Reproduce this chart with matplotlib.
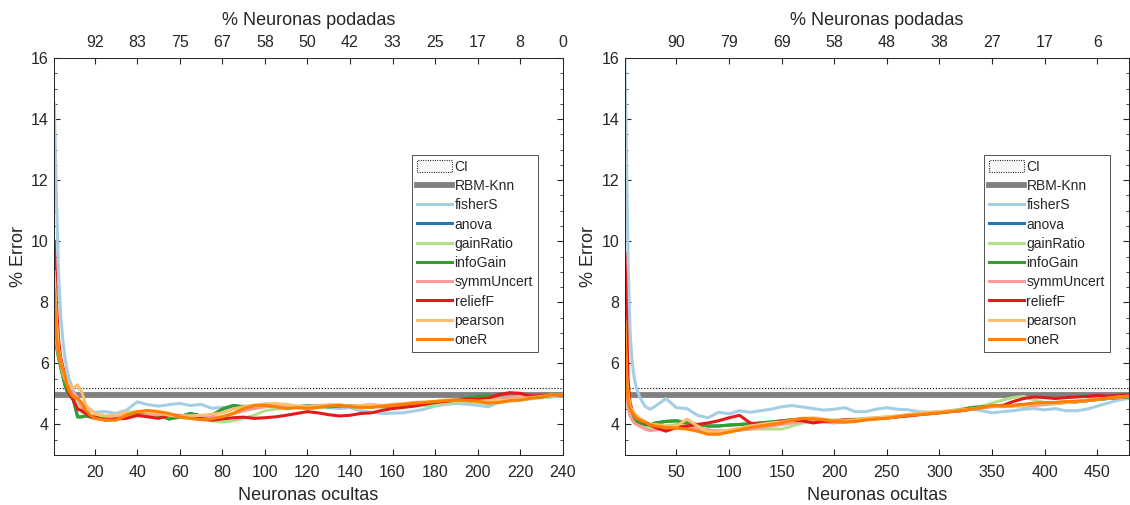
import matplotlib
matplotlib.use("Agg")
import matplotlib.pyplot as plt
from matplotlib.ticker import MultipleLocator

plt.rcParams["font.family"] = ["Liberation Sans", "DejaVu Sans"]
TXT = "#262626"

# ---- left panel: 240 hidden neurons ----
x_left = [1, 2, 3, 4, 5, 6, 7, 8, 9, 10, 12, 14, 16, 18, 20,
          25, 30, 35, 40, 45, 50, 55, 60, 65, 70, 75, 80, 85, 90, 95, 100,
          105, 110, 115, 120, 125, 130, 135, 140, 145, 150, 155, 160, 165, 170,
          175, 180, 185, 190, 195, 200, 205, 210, 215, 220, 225, 230, 235, 240]
fisher_l = [14.5, 11.5, 9.0, 7.6, 6.8, 6.2, 5.8, 5.5, 5.3, 5.1, 4.8, 4.55, 4.45, 4.45, 4.4,
            4.42, 4.36, 4.47, 4.74, 4.65, 4.6, 4.65, 4.69, 4.62, 4.66, 4.53, 4.56, 4.57, 4.6,
            4.62, 4.68, 4.65, 4.66, 4.6, 4.62, 4.55, 4.55, 4.52, 4.55, 4.45, 4.4, 4.36, 4.37,
            4.38, 4.44, 4.5, 4.6, 4.66, 4.69, 4.66, 4.63, 4.58, 4.72, 4.78, 4.8, 4.86, 4.88,
            4.9, 4.95]
gain_l = [7.6, 6.6, 6.2, 5.9, 5.6, 5.4, 5.2, 5.0, 4.9, 4.85, 4.6, 4.4, 4.3, 4.3, 4.25,
          4.22, 4.25, 4.28, 4.3, 4.28, 4.26, 4.2, 4.22, 4.2, 4.15, 4.12, 4.08, 4.12, 4.2,
          4.3, 4.45, 4.5, 4.55, 4.55, 4.52, 4.55, 4.58, 4.6, 4.6, 4.62, 4.6, 4.56, 4.55,
          4.56, 4.6, 4.62, 4.64, 4.7, 4.75, 4.76, 4.72, 4.68, 4.72, 4.76, 4.8, 4.84, 4.88,
          4.92, 4.94]
info_l = [7.8, 6.6, 6.2, 5.9, 5.6, 5.3, 5.1, 5.0, 4.9, 4.8, 4.25, 4.25, 4.28, 4.25, 4.2,
          4.2, 4.28, 4.32, 4.36, 4.33, 4.3, 4.18, 4.25, 4.36, 4.28, 4.3, 4.5, 4.62, 4.58,
          4.55, 4.6, 4.62, 4.6, 4.58, 4.6, 4.6, 4.58, 4.6, 4.62, 4.6, 4.58, 4.6, 4.58,
          4.6, 4.64, 4.7, 4.74, 4.78, 4.8, 4.86, 4.9, 4.95, 4.85, 4.82, 4.84, 4.88, 4.9,
          4.95, 4.96]
anova_l = list(info_l)  # hidden under infoGain in the picture
symm_l = [7.7, 6.7, 6.3, 6.0, 5.7, 5.5, 5.3, 5.2, 5.1, 5.0, 4.9, 4.55, 4.4, 4.3, 4.2,
          4.15, 4.25, 4.3, 4.28, 4.3, 4.32, 4.33, 4.3, 4.28, 4.25, 4.24, 4.25, 4.35, 4.45,
          4.52, 4.58, 4.62, 4.6, 4.56, 4.58, 4.62, 4.64, 4.62, 4.6, 4.62, 4.65, 4.62, 4.6,
          4.62, 4.66, 4.7, 4.74, 4.78, 4.82, 4.8, 4.78, 4.8, 4.85, 4.9, 4.92, 4.9, 4.92,
          4.95, 4.96]
relief_l = [10.0, 8.0, 6.8, 6.2, 5.9, 5.6, 5.3, 5.0, 4.9, 4.8, 4.5, 4.45, 4.35, 4.25, 4.25,
            4.14, 4.18, 4.2, 4.3, 4.25, 4.2, 4.3, 4.27, 4.22, 4.2, 4.14, 4.18, 4.22, 4.24,
            4.2, 4.22, 4.25, 4.3, 4.36, 4.42, 4.38, 4.32, 4.28, 4.3, 4.36, 4.38, 4.46, 4.52,
            4.56, 4.6, 4.66, 4.72, 4.76, 4.8, 4.82, 4.83, 4.86, 4.98, 5.04, 5.02, 4.93, 4.95,
            4.98, 4.96]
pearson_l = [9.0, 7.4, 6.5, 6.1, 5.8, 5.5, 5.4, 5.3, 5.25, 5.2, 5.3, 5.05, 4.6, 4.5, 4.35,
             4.28, 4.3, 4.4, 4.42, 4.4, 4.38, 4.3, 4.26, 4.28, 4.3, 4.33, 4.38, 4.5, 4.58,
             4.63, 4.66, 4.69, 4.65, 4.6, 4.58, 4.6, 4.63, 4.65, 4.6, 4.62, 4.64, 4.62, 4.66,
             4.68, 4.72, 4.74, 4.76, 4.8, 4.8, 4.78, 4.76, 4.78, 4.8, 4.82, 4.84, 4.88, 4.92,
             4.98, 4.97]
oner_l = [8.4, 6.9, 6.4, 6.0, 5.8, 5.6, 5.3, 5.1, 5.0, 4.9, 4.85, 4.7, 4.45, 4.3, 4.2,
          4.14, 4.14, 4.3, 4.42, 4.46, 4.42, 4.36, 4.25, 4.2, 4.16, 4.18, 4.25, 4.36, 4.52,
          4.62, 4.63, 4.58, 4.52, 4.55, 4.53, 4.56, 4.6, 4.63, 4.58, 4.56, 4.56, 4.6, 4.63,
          4.66, 4.7, 4.72, 4.75, 4.78, 4.8, 4.78, 4.76, 4.7, 4.72, 4.78, 4.8, 4.86, 4.9,
          4.98, 4.97]

# ---- right panel: 480 hidden neurons ----
x_right = [1, 2, 3, 4, 5, 6, 8, 10, 12, 15, 20, 25,
           30, 40, 50, 60, 70, 80, 90, 100, 110, 120, 130, 140, 150, 160, 170, 180, 190,
           200, 210, 220, 230, 240, 250, 260, 270, 280, 290, 300, 310, 320, 330, 340, 350,
           360, 370, 380, 390, 400, 410, 420, 430, 440, 450, 460, 470, 480]
fisher_r = [16.0, 14.0, 11.5, 9.5, 8.0, 7.0, 6.0, 5.5, 5.2, 4.9, 4.6, 4.5,
            4.6, 4.85, 4.55, 4.52, 4.3, 4.22, 4.4, 4.35, 4.45, 4.4, 4.45, 4.5, 4.58, 4.62,
            4.57, 4.52, 4.47, 4.5, 4.55, 4.42, 4.42, 4.5, 4.55, 4.5, 4.48, 4.42, 4.4, 4.4,
            4.45, 4.45, 4.5, 4.45, 4.38, 4.42, 4.45, 4.5, 4.52, 4.48, 4.52, 4.45, 4.45, 4.5,
            4.6, 4.7, 4.8, 4.85]
gain_r = [7.0, 5.8, 5.0, 4.6, 4.4, 4.3, 4.15, 4.05, 4.0, 3.95, 3.9, 3.88,
          3.88, 3.95, 4.0, 3.95, 3.9, 3.82, 3.8, 3.78, 3.82, 3.85, 3.85, 3.85, 3.85, 3.95,
          4.05, 4.1, 4.12, 4.15, 4.15, 4.18, 4.2, 4.22, 4.25, 4.28, 4.32, 4.35, 4.38, 4.42,
          4.45, 4.5, 4.55, 4.6, 4.7, 4.8, 4.88, 4.92, 4.8, 4.72, 4.72, 4.75, 4.76, 4.8,
          4.84, 4.86, 4.88, 4.9]
info_r = [7.6, 6.0, 5.2, 4.8, 4.6, 4.45, 4.3, 4.2, 4.1, 4.05, 4.0, 3.98,
          4.05, 4.1, 4.12, 4.05, 4.0, 3.95, 3.95, 3.98, 4.0, 4.02, 4.05, 4.08, 4.12, 4.15,
          4.18, 4.15, 4.12, 4.1, 4.12, 4.15, 4.18, 4.2, 4.22, 4.26, 4.3, 4.33, 4.38, 4.4,
          4.43, 4.48, 4.55, 4.58, 4.6, 4.6, 4.62, 4.65, 4.66, 4.68, 4.7, 4.72, 4.74, 4.78,
          4.82, 4.85, 4.88, 4.9]
anova_r = list(info_r)  # hidden under infoGain in the picture
symm_r = [6.6, 5.6, 5.0, 4.6, 4.4, 4.3, 4.15, 4.05, 4.0, 3.95, 3.85, 3.8,
          3.82, 3.85, 3.9, 3.9, 3.85, 3.82, 3.78, 3.8, 3.82, 3.85, 3.9, 3.95, 4.0, 4.05,
          4.1, 4.12, 4.08, 4.05, 4.08, 4.1, 4.15, 4.18, 4.22, 4.25, 4.28, 4.32, 4.36, 4.4,
          4.42, 4.45, 4.5, 4.55, 4.58, 4.6, 4.62, 4.6, 4.62, 4.65, 4.68, 4.72, 4.75, 4.8,
          4.84, 4.88, 4.9, 4.92]
relief_r = [9.6, 8.5, 7.0, 5.5, 5.0, 4.7, 4.45, 4.3, 4.2, 4.15, 4.05, 4.0,
            3.9, 3.78, 3.9, 3.95, 4.0, 4.05, 4.12, 4.22, 4.3, 4.05, 4.0, 4.05, 4.1, 4.15,
            4.12, 4.05, 4.1, 4.12, 4.15, 4.15, 4.18, 4.2, 4.22, 4.25, 4.28, 4.32, 4.35, 4.38,
            4.42, 4.45, 4.5, 4.55, 4.6, 4.62, 4.75, 4.85, 4.9, 4.88, 4.85, 4.88, 4.9, 4.92,
            4.95, 4.93, 4.95, 4.98]
pearson_r = [7.4, 6.2, 5.4, 5.0, 4.8, 4.6, 4.45, 4.35, 4.3, 4.2, 4.1, 4.0,
             4.0, 3.95, 3.95, 4.18, 3.95, 3.75, 3.75, 3.82, 3.88, 3.95, 4.0, 4.05, 4.08, 4.15,
             4.2, 4.22, 4.18, 4.12, 4.12, 4.15, 4.2, 4.22, 4.25, 4.28, 4.32, 4.35, 4.4, 4.42,
             4.45, 4.48, 4.5, 4.55, 4.6, 4.58, 4.6, 4.62, 4.68, 4.7, 4.7, 4.72, 4.74, 4.78,
             4.82, 4.86, 4.9, 4.93]
oner_r = [7.2, 6.0, 5.2, 4.8, 4.6, 4.5, 4.4, 4.3, 4.2, 4.15, 4.08, 4.0,
          3.95, 3.9, 3.88, 3.85, 3.78, 3.68, 3.68, 3.75, 3.82, 3.9, 3.95, 4.0, 4.05, 4.15,
          4.2, 4.18, 4.15, 4.1, 4.08, 4.1, 4.15, 4.18, 4.2, 4.25, 4.3, 4.32, 4.35, 4.38,
          4.42, 4.45, 4.5, 4.55, 4.62, 4.6, 4.62, 4.66, 4.7, 4.72, 4.72, 4.75, 4.76, 4.78,
          4.82, 4.86, 4.9, 4.92]

ref_error = 4.96        # RBM-Knn
ci_bounds = (4.92, 5.18)

names = ["fisherS", "anova", "gainRatio", "infoGain", "symmUncert",
         "reliefF", "pearson", "oneR"]
colors = ["#a6cee3", "#1f78b4", "#b2df8a", "#33a02c", "#fb9a99",
          "#e31a1c", "#fdbf6f", "#ff7f00"]
left_series = [fisher_l, anova_l, gain_l, info_l, symm_l, relief_l, pearson_l, oner_l]
right_series = [fisher_r, anova_r, gain_r, info_r, symm_r, relief_r, pearson_r, oner_r]

top_left = [20, 40, 60, 80, 100, 120, 140, 160, 180, 200, 220, 240]
top_left_labels = ["92", "83", "75", "67", "58", "50", "42", "33", "25", "17", "8", "0"]
top_right = [50, 100, 150, 200, 250, 300, 350, 400, 450]
top_right_labels = ["90", "79", "69", "58", "48", "38", "27", "17", "6"]


def draw_panel(fig, rect, xs, series, n_max, bottom_step, top_ticks, top_labels, leg_x):
    ax = fig.add_axes(rect)
    ax.fill_between([1, n_max], ci_bounds[0], ci_bounds[1], facecolor="#f7f7f7",
                    edgecolor="black", linestyle=":", linewidth=0.8, label="CI")
    ax.plot([1, n_max], [ref_error, ref_error], color="#808080", lw=4.2, label="RBM-Knn")
    for vals, name, col in zip(series, names, colors):
        ax.plot(xs, vals, color=col, lw=2.2, label=name)
    ax.set_xlim(1, n_max)
    ax.set_ylim(3, 16)
    ax.xaxis.set_major_locator(MultipleLocator(bottom_step))
    ax.yaxis.set_major_locator(MultipleLocator(2))
    ax.yaxis.set_minor_locator(MultipleLocator(0.5))
    ax.tick_params(which="both", direction="in", right=True, colors=TXT,
                   labelsize=11.5, pad=4)
    ax.tick_params(axis="x", pad=7)
    ax.tick_params(which="major", length=4)
    ax.tick_params(which="minor", length=2.5)
    for sp in ax.spines.values():
        sp.set_color(TXT)
        sp.set_linewidth(0.7)
    ax.set_xlabel("Neuronas ocultas", fontsize=13, color=TXT, labelpad=5)
    ax.set_ylabel("% Error", fontsize=13, color=TXT, labelpad=3)

    top = ax.twiny()
    top.set_xlim(ax.get_xlim())
    top.set_xticks(top_ticks)
    top.set_xticklabels(top_labels)
    top.tick_params(direction="in", colors=TXT, labelsize=11.5, length=4, pad=6)
    for sp in top.spines.values():
        sp.set_color(TXT)
        sp.set_linewidth(0.7)
    top.set_xlabel("% Neuronas podadas", fontsize=13, color=TXT, labelpad=7)

    leg = ax.legend(loc="upper right", bbox_to_anchor=(leg_x, 0.756), fontsize=10,
                    frameon=True, fancybox=False, handlelength=2.5, handleheight=0.9,
                    borderpad=0.35, labelspacing=0.38, handletextpad=0.2,
                    borderaxespad=0)
    leg.get_frame().set_edgecolor(TXT)
    leg.get_frame().set_linewidth(0.7)
    for t in leg.get_texts():
        t.set_color(TXT)
    return ax


fig = plt.figure(figsize=(11.3, 5.05), dpi=100)
draw_panel(fig, [0.048, 0.099, 0.450, 0.786], x_left, left_series, 240, 20,
           top_left, top_left_labels, 0.951)
draw_panel(fig, [0.553, 0.099, 0.446, 0.786], x_right, right_series, 480, 50,
           top_right, top_right_labels, 0.962)
fig.savefig("out.png", dpi=100)
